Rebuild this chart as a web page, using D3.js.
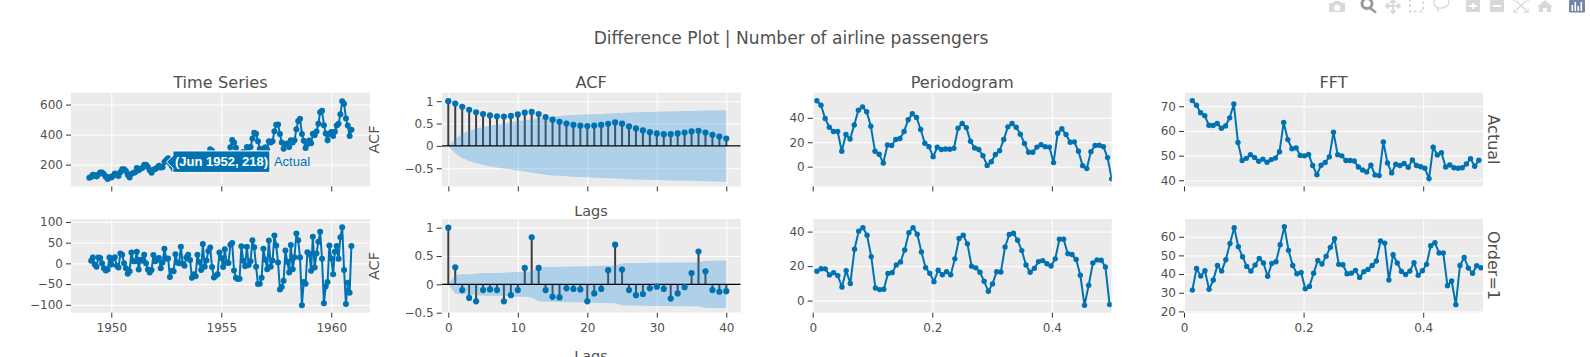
<!DOCTYPE html>
<html>
<head>
<meta charset="utf-8">
<script src="https://cdn.jsdelivr.net/npm/d3@7"></script>
<style>
  body { margin: 0; background: #fff; overflow: hidden; }
  text { font-family: "DejaVu Sans", Verdana, sans-serif; fill: #505050; }
</style>
</head>
<body>
<div id="container"></div>
<script>
/* DATA */
const passengers = [
  112,118,132,129,121,135,148,148,136,119,104,118,
  115,126,141,135,125,149,170,170,158,133,114,140,
  145,150,178,163,172,178,199,199,184,162,146,166,
  171,180,193,181,183,218,230,242,209,191,172,194,
  196,196,236,235,229,243,264,272,237,211,180,201,
  204,188,235,227,234,264,302,293,259,229,203,229,
  242,233,267,269,270,315,364,347,312,274,237,278,
  284,277,317,313,318,374,413,405,355,306,271,306,
  315,301,356,348,355,422,465,467,404,347,305,336,
  340,318,362,348,363,435,491,505,404,359,310,337,
  360,342,406,396,420,472,548,559,463,407,362,405,
  417,391,419,461,472,535,622,606,508,461,390,432]
const passengersDiff = [
  6,14,-3,-8,14,13,0,-12,-17,-15,14,
  -3,11,15,-6,-10,24,21,0,-12,-25,-19,26,
  5,5,28,-15,9,6,21,0,-15,-22,-16,20,
  5,9,13,-12,2,35,12,12,-33,-18,-19,22,
  2,0,40,-1,-6,14,21,8,-35,-26,-31,21,
  3,-16,47,-8,7,30,38,-9,-34,-30,-26,26,
  13,-9,34,2,1,45,49,-17,-35,-38,-37,41,
  6,-7,40,-4,5,56,39,-8,-50,-49,-35,35,
  9,-14,55,-8,7,67,43,2,-63,-57,-42,31,
  4,-22,44,-14,15,72,56,14,-101,-45,-49,27,
  23,-18,64,-10,24,52,76,11,-96,-56,-45,43,
  12,-26,28,42,11,63,87,-16,-98,-47,-71,42]

const acfActual = [1,.948,.876,.807,.753,.714,.682,.663,.656,.671,.703,.743,.76,.713,.646,.586,.538,.5,.472,.453,.445,.454,.47,.495,.525,.496,.436,.39,.346,.308,.278,.263,.263,.278,.3,.323,.338,.3,.248,.21,.165]
const acfActualConf = [0,.163,.273,.339,.387,.424,.455,.481,.505,.527,.549,.573,.598,.623,.644,.66,.67,.68,.69,.697,.703,.71,.716,.722,.73,.737,.745,.75,.757,.76,.765,.768,.772,.775,.778,.782,.787,.791,.794,.797,.8]
const acfDiff = [1,.3,-.1,-.24,-.3,-.1,-.09,-.1,-.3,-.19,-.1,.29,.83,.29,-.1,-.22,-.23,-.07,-.08,-.09,-.3,-.16,-.08,.25,.7,.26,-.1,-.19,-.17,-.07,-.04,-.08,-.25,-.16,-.05,.2,.58,.23,-.1,-.13,-.12]
const acfDiffConf = [0,.163,.177,.179,.187,.199,.2,.202,.203,.214,.219,.22,.23,.299,.307,.307,.311,.316,.316,.317,.318,.325,.327,.328,.333,.37,.375,.375,.378,.38,.38,.38,.381,.385,.387,.387,.39,.412,.415,.416,.417]

const periodActual = [54,50.4,39.5,32.3,28.8,28.8,12.6,26.3,22.7,34.2,46.3,49,45,33.2,12.6,10.1,3,17.8,17.3,22.2,23,28.8,38.4,43.3,40.3,30.4,19.2,16.4,8.2,15.9,14,14.5,14.2,15,31.5,35.3,32,20.8,15.3,14,9,1,4,10,13,22.2,32.6,35.3,32.3,26.6,19,11.8,11.8,16,18,16.4,16,3.3,27.4,31,26.3,20,20.3,12.6,.8,-1.6,12.3,17.3,17.5,16.4,7.4,-10]
const periodDiff = [17,18.5,18.4,14.9,16.2,14.5,7.9,17.4,9.9,29.8,40.2,42.3,37.9,25.5,7.3,6.4,6.6,15.7,16.2,20.7,22.4,29.4,39.4,42.3,38.5,28.2,19.1,15.8,11,17.6,15,16.8,15,24.2,36,37.9,32.9,19.9,19,16.4,11.2,5.4,9.7,16.8,16.6,31.1,38.3,39,35,29,20.7,16.4,18.7,22.6,23.2,21.4,20.1,24.2,35.6,35.6,27.2,26.7,23.8,14.7,-2.7,8.9,21.8,23.6,23.4,19.5,-2.3]

const fftActual = [72.3,70.4,67.4,66.2,62.3,62.2,63,61.1,62,65.3,70.9,55.3,48,48.9,50.4,49.2,47.7,48.6,47.3,48.4,49,51.6,63.4,56.5,52.8,53.1,50.1,49.9,50.5,46,42.3,46.1,47.2,49.5,59.5,50.4,49.9,48,48,47.8,45.4,44.2,43.4,46.1,42.2,41.9,55.5,47,43,46.5,46,46.8,45.3,48.2,46,45.5,44.9,40.7,53.4,50.3,51.2,45.4,46.2,45.1,44.9,45.1,46.6,48.8,45.7,48.1]
const fftDiff = [31.4,43,38.9,41.8,31.8,36.8,44.6,41.6,47.7,56.4,64.8,54.6,49.3,44.1,41.6,44.8,48.4,45.9,38.8,45.7,46.6,55.7,65.4,52.7,44.6,40.2,40.9,32.1,33.4,40.5,47.3,45.4,49.6,54.3,58.9,45.2,45,40.2,40.5,42,38.2,41.3,42.5,44.6,47,57.7,56.6,36.8,50.4,45.9,41.4,39.8,41.6,46.1,39.3,41.8,45.2,55.2,56.8,51.3,51.3,33.8,36.3,23.6,44.6,48.9,43.2,40.4,44.5,43.4]

const yearTicks = [1950, 1955, 1960]
const lagTicks = [0, 10, 20, 30, 40]
const freqTicks = [0, 0.2, 0.4]
const mainTitle = "Difference Plot | Number of airline passengers"
const colTitles = ["Time Series", "ACF", "Periodogram", "FFT"]
const rowTitles = ["Actual", "Order=1"]

/* CONSTANTS AND GLOBALS */
const width = 1590, height = 357
const colLeft = [71, 441.7, 812.7, 1184]
const rowTop = [92.7, 219]
const panelW = 299, panelH = 93.7
const blue = "#0072b2"

const year = y => new Date(Date.UTC(y, 0, 1))
const yearFrac = f => new Date(Date.UTC(Math.floor(f), 0, 1) + (f - Math.floor(f)) * 31536e6)
const monthly = (arr, start) => arr.map((v, i) => ({ x: d3.utcMonth.offset(start, i), y: v }))
const spectral = (arr, first, n) => arr.map((v, i) => ({ x: (i + first) / n, y: v }))
const lagged = arr => arr.map((v, i) => ({ x: i, y: v }))

const svg = d3.select("#container").append("svg")
  .attr("width", width).attr("height", height)
  .style("display", "block")

svg.append("text").attr("x", 791).attr("y", 43.5)
  .attr("text-anchor", "middle").style("font-size", "17.1px").text(mainTitle)

/* one subplot: background, grid, ticks. returns scales and a clipped group */
function panel(col, row, xScale, yDomain, xVals, yVals, fmt, showXLabels) {
  const x0 = colLeft[col], y0 = rowTop[row]
  const y = d3.scaleLinear().domain(yDomain).range([y0 + panelH, y0])
  const x = xScale.range([x0, x0 + panelW])
  const g = svg.append("g")

  g.append("rect").attr("x", x0).attr("y", y0).attr("width", panelW).attr("height", panelH).attr("fill", "#ebebeb")

  // grid
  g.append("g").attr("transform", `translate(0,${y0 + panelH})`)
    .call(d3.axisBottom(x).tickValues(xVals).tickSize(-panelH).tickFormat(""))
    .call(s => s.select(".domain").remove())
    .call(s => s.selectAll("line").attr("stroke", "#fff"))
  g.append("g").attr("transform", `translate(${x0},0)`)
    .call(d3.axisLeft(y).tickValues(yVals).tickSize(-panelW).tickFormat(""))
    .call(s => s.select(".domain").remove())
    .call(s => s.selectAll("line").attr("stroke", "#fff"))

  // ticks
  const xAxis = g.append("g").attr("transform", `translate(0,${y0 + panelH})`)
    .call(d3.axisBottom(x).tickValues(xVals).tickSize(5).tickPadding(6)
      .tickFormat(showXLabels ? (col == 0 ? d3.utcFormat("%Y") : d3.format("~g")) : ""))
  xAxis.select(".domain").remove()
  const yAxis = g.append("g").attr("transform", `translate(${x0},0)`)
    .call(d3.axisLeft(y).tickValues(yVals).tickSize(5).tickPadding(3).tickFormat(fmt))
  yAxis.select(".domain").remove()
  g.selectAll(".tick line").filter(function () { return +this.getAttribute("x2") == -5 || +this.getAttribute("y2") == 5 })
    .attr("stroke", "#333")
  g.selectAll(".tick text").style("font-size", "12px")

  const clipId = `clip-${col}-${row}`
  svg.append("clipPath").attr("id", clipId).append("rect")
    .attr("x", x0).attr("y", y0).attr("width", panelW).attr("height", panelH)
  const plot = svg.append("g").attr("clip-path", `url(#${clipId})`)
  return { x, y, plot }
}

function drawLine(p, data, r) {
  const line = d3.line().x(d => p.x(d.x)).y(d => p.y(d.y))
  p.plot.append("path").datum(data).attr("d", line)
    .attr("fill", "none").attr("stroke", blue).attr("stroke-width", 2)
  p.plot.selectAll("circle").data(data).join("circle")
    .attr("cx", d => p.x(d.x)).attr("cy", d => p.y(d.y)).attr("r", r).attr("fill", blue)
}

function drawAcf(p, data, conf) {
  p.plot.selectAll("line.stem").data(data).join("line")
    .attr("class", "stem")
    .attr("x1", d => p.x(d.x)).attr("x2", d => p.x(d.x))
    .attr("y1", p.y(0)).attr("y2", d => p.y(d.y))
    .attr("stroke", "#3f3f3f").attr("stroke-width", 2)
  const band = d3.area().x((d, i) => p.x(i)).y0(d => p.y(-d)).y1(d => p.y(d))
  p.plot.append("path").datum(conf).attr("d", band).attr("fill", "rgba(32,146,230,0.3)")
  p.plot.append("line")
    .attr("x1", p.x.range()[0]).attr("x2", p.x.range()[1])
    .attr("y1", p.y(0)).attr("y2", p.y(0)).attr("stroke", "#000").attr("stroke-width", 1.2)
  p.plot.selectAll("circle").data(data).join("circle")
    .attr("cx", d => p.x(d.x)).attr("cy", d => p.y(d.y)).attr("r", 3.1).attr("fill", blue)
}

const timeX = () => d3.scaleUtc().domain([yearFrac(1948.17), yearFrac(1961.76)])
const lagX = () => d3.scaleLinear().domain([-0.95, 42.07])
const freqX = () => d3.scaleLinear().domain([0, 0.5])
const pctFmt = d3.format("~g")
const timeTicks = yearTicks.map(year)

/* TIME SERIES */
const ts1 = panel(0, 0, timeX(), [55, 679], timeTicks, [200, 400, 600], pctFmt, false)
drawLine(ts1, monthly(passengers, new Date(Date.UTC(1949, 0, 1))), 3)
const ts2 = panel(0, 1, timeX(), [-119, 107], timeTicks, [-100, -50, 0, 50, 100], pctFmt, true)
drawLine(ts2, monthly(passengersDiff, new Date(Date.UTC(1949, 1, 1))), 3)

/* ACF */
const ac1 = panel(1, 0, lagX(), [-0.906, 1.19], lagTicks, [-0.5, 0, 0.5, 1], pctFmt, false)
drawAcf(ac1, lagged(acfActual), acfActualConf)
const ac2 = panel(1, 1, lagX(), [-0.5, 1.153], lagTicks, [-0.5, 0, 0.5, 1], pctFmt, true)
drawAcf(ac2, lagged(acfDiff), acfDiffConf)

/* PERIODOGRAM */
const pg1 = panel(2, 0, freqX(), [-16.2, 60.6], freqTicks, [0, 20, 40], pctFmt, false)
drawLine(pg1, spectral(periodActual, 1, 144), 2.7)
const pg2 = panel(2, 1, freqX(), [-7, 47.3], freqTicks, [0, 20, 40], pctFmt, true)
drawLine(pg2, spectral(periodDiff, 1, 143), 2.7)

/* FFT */
const ff1 = panel(3, 0, freqX(), [37.53, 75.5], freqTicks, [40, 50, 60, 70], pctFmt, false)
drawLine(ff1, spectral(fftActual, 2, 144), 2.7)
const ff2 = panel(3, 1, freqX(), [19.3, 69.5], freqTicks, [20, 30, 40, 50, 60], pctFmt, true)
drawLine(ff2, spectral(fftDiff, 2, 143), 2.7)

/* TITLES */
colTitles.forEach((t, i) => {
  svg.append("text").attr("x", colLeft[i] + panelW / 2).attr("y", 88)
    .attr("text-anchor", "middle").style("font-size", "16.2px").text(t)
})
const sideLabel = (txt, x, y, rot, size) => svg.append("text")
  .attr("transform", `translate(${x},${y}) rotate(${rot})`)
  .attr("text-anchor", "middle").style("font-size", size).text(txt)
sideLabel("ACF", 378.5, 139.5, -90, "14.5px")
sideLabel("ACF", 378.5, 266, -90, "14.5px")
sideLabel(rowTitles[0], 1488, 139.5, 90, "16px")
sideLabel(rowTitles[1], 1488, 265.5, 90, "16px")
sideLabel("Lags", 591, 215.6, 0, "14.5px")
sideLabel("Lags", 591, 360.5, 0, "14.5px")

/* HOVER LABEL on Jun 1952 */
const hoverX = ts1.x(new Date(Date.UTC(1952, 5, 1))) + 2
const hoverY = ts1.y(218)
const boxL = hoverX + 6.5, boxR = boxL + 97
const hover = svg.append("g")
hover.append("path")
  .attr("d", `M${hoverX},${hoverY} L${boxL},${hoverY - 6} V${hoverY - 11} H${boxR} V${hoverY + 10.5} H${boxL} V${hoverY + 6} Z`)
  .attr("fill", blue).attr("stroke", "#fff")
hover.append("text").attr("x", boxL + 2).attr("y", hoverY + 4.5)
  .style("font-family", "'Liberation Sans', Arial, sans-serif").style("font-size", "13px").style("font-weight", "bold")
  .style("fill", "#fff").text("(Jun 1952, 218)")
hover.append("text").attr("x", boxR + 4).attr("y", hoverY + 4.5)
  .style("font-family", "'Liberation Sans', Arial, sans-serif").style("font-size", "13px")
  .style("fill", blue).text(rowTitles[0])

/* MODEBAR */
const bar = svg.append("g").attr("fill", "#d8d8d8")
// camera
bar.append("path").attr("fill-rule", "evenodd")
  .attr("d", "M1329,3 h4 l1.5,-2 h5 l1.5,2 h4 v9 h-16 Z M1337,4.5 a3.3,3.3 0 1 0 0.01,0 Z")
// zoom (active)
bar.append("circle").attr("cx", 1367).attr("cy", 3.5).attr("r", 5).attr("fill", "none").attr("stroke", "#999").attr("stroke-width", 3)
bar.append("line").attr("x1", 1370).attr("y1", 8).attr("x2", 1376).attr("y2", 12.5).attr("stroke", "#999").attr("stroke-width", 2.5)
// pan
bar.append("path").attr("fill", "none").attr("stroke", "#d8d8d8").attr("stroke-width", 1.8)
  .attr("d", "M1393,-1 V13 M1386,6 H1400 M1390.5,10.5 L1393,13 L1395.5,10.5 M1390,3 L1393,0 L1396,3 M1388.5,3.5 L1386,6 L1388.5,8.5 M1397.5,3.5 L1400,6 L1397.5,8.5")
// box select
bar.append("rect").attr("x", 1410).attr("y", -2).attr("width", 13).attr("height", 13.5)
  .attr("fill", "none").attr("stroke", "#d8d8d8").attr("stroke-width", 2).attr("stroke-dasharray", "2.5 3")
// lasso
bar.append("path").attr("fill", "none").attr("stroke", "#d8d8d8").attr("stroke-width", 1.3)
  .attr("d", "M1434,2 C1435,-4 1449,-4 1449,2 C1449,8 1438,10 1435,6 C1433,4 1434,3 1434,2 M1436,6 L1439,12")
// zoom in / out
bar.append("path").attr("fill-rule", "evenodd")
  .attr("d", "M1466,0 h14 v12 h-14 Z M1472,3 v2 h-3 v2 h3 v2 h2 v-2 h3 v-2 h-3 v-2 Z")
bar.append("path").attr("fill-rule", "evenodd")
  .attr("d", "M1490,0 h14 v12 h-14 Z M1493,5 v2 h8 v-2 Z")
// autoscale
bar.append("path").attr("fill", "none").attr("stroke", "#d8d8d8").attr("stroke-width", 1.3)
  .attr("d", "M1514,9 v3 h4 M1528,9 v3 h-4 M1514,2 v-2 M1528,2 v-2 M1516,1 L1526,10 M1526,1 L1516,10")
bar.append("path").attr("fill", "#d8d8d8")
  .attr("d", "M1545,0 L1553,7 H1551 V12 H1547 V8 H1543 V12 H1539 V7 H1537 Z")
// plotly logo
bar.append("rect").attr("x", 1569).attr("y", 0).attr("width", 16).attr("height", 12.5).attr("fill", "#7585a8").attr("rx", 1)
const logo = svg.append("g").attr("fill", "#fff")
;[[1571.5, 5, 6], [1574.5, 2, 9], [1577.5, 6, 5], [1580.5, 2, 9]].forEach(b => {
  logo.append("rect").attr("x", b[0]).attr("y", b[1]).attr("width", 1.6).attr("height", b[2])
})
</script>
</body>
</html>
